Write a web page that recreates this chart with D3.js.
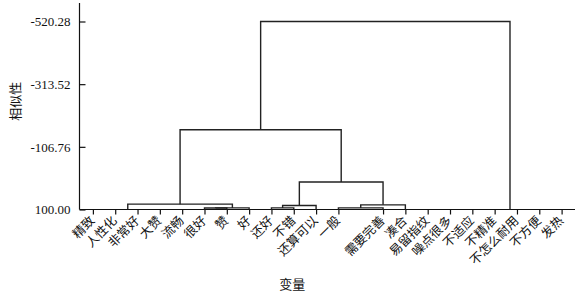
<!DOCTYPE html>
<html><head><meta charset="utf-8">
<script src="https://cdn.jsdelivr.net/npm/d3@7"></script>
<style>html,body{margin:0;padding:0;background:#fff;} svg{display:block;}</style>
</head><body><div id="chart"></div>
<script>
// Leaves in dendrogram order ("" marks an empty slot on the axis)
const leaves = ["精致","人性化","非常好","大赞","流畅","很好","赞","好",
  "还好","不错","还算可以","一般","","需要完善","凑合","易留指纹","噪点很多",
  "不适应","不精准","不怎么耐用","不方便","发热"];
// Amalgamation steps: [child A, child B, similarity]; new clusters get ids from leaves.length on
const mergeA = [1, 22, 23, 0, 15, 26, 27, 19, 29, 28, 5, 32, 8, 11, 34, 35, 25, 36, 38, 40];
const mergeB = [2, 3, 4, 24, 16, 17, 18, 20, 21, 30, 6, 7, 9, 13, 10, 14, 33, 37, 39, 31];
const mergeSim = [100,100,100,100,100,100,100,100,100,100,95.2,94.7,94.7,94.7,86.7,84.7,82.4,9.4,-163.3,-520.28];
const yTicks = [100, -106.76, -313.52, -520.28];
const yTitle = "相似性";
const xTitle = "变量";

const W = 578, H = 298;
const axisX = 79.5, baseY = 209.5, topTickY = 21.5, axisTopY = 3, rightX = 575;
const cjk = "'Noto Sans CJK SC','Noto Sans',sans-serif";
const serif = "'Liberation Serif','DejaVu Serif',serif";

const svg = d3.select("#chart").append("svg").attr("width", W).attr("height", H)
  .style("background", "#fff");

const x = d3.scalePoint().domain(leaves).range([axisX, rightX]).padding(0.6);
const y = d3.scaleLinear().domain([yTicks[0], yTicks[yTicks.length - 1]]).range([baseY, topTickY]);

// compute node positions
const nodeX = leaves.map(d => x(d));
const nodeS = leaves.map(() => 100);
const segs = [];
mergeA.forEach((a, i) => {
  const b = mergeB[i], s = mergeSim[i];
  const xa = nodeX[a], xb = nodeX[b];
  segs.push({xa, xb, sa: nodeS[a], sb: nodeS[b], s});
  nodeX.push((xa + xb) / 2);
  nodeS.push(s);
});

// axes lines
svg.append("line").attr("x1", axisX).attr("x2", axisX).attr("y1", axisTopY).attr("y2", baseY)
  .attr("stroke", "#111").attr("stroke-width", 1.2);
svg.append("line").attr("x1", axisX).attr("x2", rightX).attr("y1", baseY).attr("y2", baseY)
  .attr("stroke", "#111").attr("stroke-width", 1.2);

// y axis
const gy = svg.append("g").attr("transform", `translate(${axisX},0)`)
  .call(d3.axisLeft(y).tickValues(yTicks).tickSizeInner(-6).tickSizeOuter(0).tickPadding(9)
    .tickFormat(d => d.toFixed(2)));
gy.select(".domain").remove();
gy.selectAll(".tick line").attr("stroke", "#111").attr("stroke-width", 1.2);
gy.selectAll(".tick text").attr("font-family", serif).attr("font-size", 13).attr("fill", "#111");

// x axis
const gx = svg.append("g").attr("transform", `translate(0,${baseY})`)
  .call(d3.axisBottom(x).tickValues(leaves.filter(d => d)).tickSize(5).tickSizeOuter(0));
gx.select(".domain").remove();
gx.selectAll(".tick line").attr("stroke", "#111").attr("stroke-width", 1.2);
gx.selectAll(".tick text")
  .attr("x", 0).attr("y", 0).attr("dy", null)
  .attr("text-anchor", "end")
  .attr("transform", "translate(2,12) rotate(-45)")
  .attr("font-family", cjk).attr("font-size", 12.5).attr("fill", "#111");

// dendrogram (merges at the base similarity lie on the axis line)
svg.append("g").selectAll("path").data(segs.filter(d => d.s < yTicks[0])).join("path")
  .attr("d", d => `M${d.xa},${y(d.sa)}V${y(d.s)}H${d.xb}V${y(d.sb)}`)
  .attr("fill", "none").attr("stroke", "#222").attr("stroke-width", 1.4);

// titles
svg.append("text").attr("transform", `translate(14,${(axisTopY + baseY) / 2 - 5}) rotate(-90)`)
  .attr("text-anchor", "middle").attr("dominant-baseline", "central")
  .attr("font-family", cjk).attr("font-size", 13).attr("fill", "#111").text(yTitle);
svg.append("text").attr("x", (axisX + rightX) / 2 - 35).attr("y", 289)
  .attr("text-anchor", "middle")
  .attr("font-family", cjk).attr("font-size", 13).attr("fill", "#111").text(xTitle);
</script>
</body></html>
